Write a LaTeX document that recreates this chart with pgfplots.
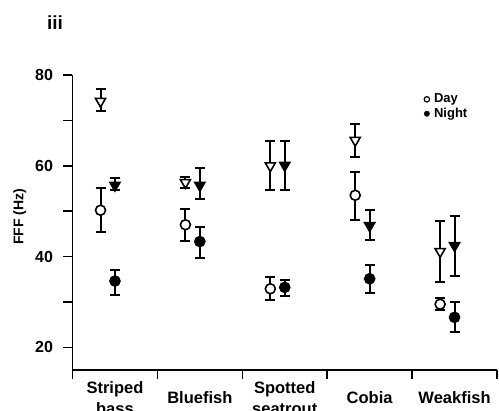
\documentclass[border=0pt]{standalone}
\usepackage{pgfplots}
\pgfplotsset{compat=1.18}
\usepackage{pgfplotstable}
\usepackage{fontspec}
\setmainfont{Liberation Sans}
\pgfplotstableread{
x y ep em
-0.17 50.2 4.8 4.9
0.83 47.0 3.4 3.6
1.83 32.9 2.7 2.5
2.83 53.5 5.1 5.5
3.83 29.5 1.4 1.3
}\daycirc
\pgfplotstableread{
x y ep em
0 34.6 2.5 3.0
1 43.3 3.3 3.6
2 33.2 1.7 1.9
3 35.1 3.0 3.2
4 26.6 3.3 3.3
}\nightcirc
\pgfplotstableread{
x y ep em
-0.17 74.2 2.8 2.2
0.83 56.3 1.3 1.1
1.83 60.0 5.5 5.4
2.83 65.6 3.7 3.6
3.83 41.1 6.8 6.8
}\daytri
\pgfplotstableread{
x y ep em
0 55.7 1.6 1.1
1 55.7 3.9 3.1
2 60.1 5.4 5.4
3 46.8 3.4 3.1
4 42.4 6.6 6.8
}\nighttri
\begin{document}
\begin{tikzpicture}[x=1pt,y=1pt]
\begin{axis}[
  at={(72.5pt,41pt)}, anchor=south west,
  scale only axis, width=424.5pt, height=295pt,
  xmin=-0.5, xmax=4.5, ymin=15, ymax=80,
  axis lines=left, axis line style={-, line width=1.5pt},
  tick align=outside, major tick length=9pt,
  every tick/.style={black, line width=1.5pt},
  xtick={-0.5,0.5,1.5,2.5,3.5,4.5}, xticklabels={},
  extra x ticks={0,1,2,3,4},
  extra x tick labels={Striped\\bass, Bluefish, Spotted\\seatrout, Cobia, Weakfish},
  extra x tick style={major tick length=0pt, tick label style={anchor=center, yshift=-28pt, align=center, font=\bfseries\fontsize{16.5}{21}\selectfont}},
  ytick={20,30,40,50,60,70,80}, yticklabels={20,,40,,60,,80},
  yticklabel style={font=\bfseries\fontsize{16}{18}\selectfont, xshift=-7pt},
  /pgf/number format/assume math mode=true,
  ylabel={FFF (Hz)},
  ylabel style={font=\bfseries\fontsize{14}{16}\selectfont, at={(axis description cs:-0.124,0.519)}, anchor=center, rotate=0},
  clip=false,
  error bars/y dir=both, error bars/y explicit,
  error bars/error bar style={line width=2pt, black},
  error bars/error mark options={rotate=90, line width=2pt, mark size=5pt, black},
  legend style={draw=none, fill=none, at={(0.828,0.942)}, anchor=north west, font=\bfseries\fontsize{13}{14}\selectfont, inner sep=0pt, row sep=0.4pt, cells={anchor=west}, nodes={inner sep=1pt, text height=9.5pt, text depth=2.5pt}, /tikz/every odd column/.append style={column sep=3.5pt}},
  legend image code/.code={\draw[#1] plot coordinates {(0.12cm,0cm)};},
]
\addlegendimage{only marks, mark=*, mark size=2.7pt, line width=1.2pt, mark options={fill=white, draw=black}}
\addlegendentry{Day}
\addlegendimage{only marks, mark=*, mark size=2.7pt, mark options={fill=black, draw=black}}
\addlegendentry{Night}
\addplot[only marks, mark=*, mark size=5pt, line width=1.6pt, mark options={fill=white, draw=black}, forget plot]
  table[x=x, y=y, y error plus=ep, y error minus=em] {\daycirc};
\addplot[only marks, mark=*, mark size=5pt, line width=1.6pt, mark options={fill=black, draw=black}, forget plot]
  table[x=x, y=y, y error plus=ep, y error minus=em] {\nightcirc};
\addplot[only marks, mark=triangle*, mark size=5.8pt, line width=1.6pt, mark options={fill=white, draw=black, rotate=180}, forget plot]
  table[x=x, y=y, y error plus=ep, y error minus=em] {\daytri};
\addplot[only marks, mark=triangle*, mark size=5.8pt, line width=1.6pt, mark options={fill=black, draw=black, rotate=180}, forget plot]
  table[x=x, y=y, y error plus=ep, y error minus=em] {\nighttri};
\end{axis}
\node[font=\bfseries\fontsize{19}{21}\selectfont] at (55pt,388pt) {iii};
\pgfresetboundingbox
\path[use as bounding box] (0,0) rectangle (499pt,411pt);
\end{tikzpicture}
\end{document}
